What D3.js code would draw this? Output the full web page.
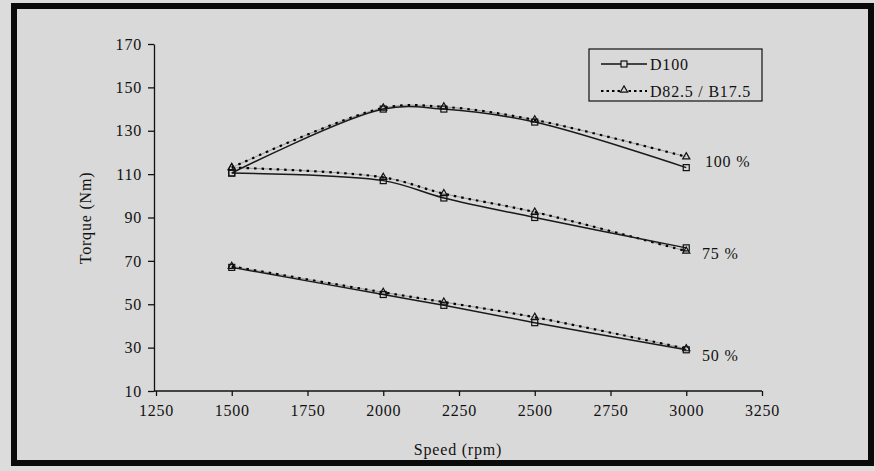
<!DOCTYPE html>
<html>
<head>
<meta charset="utf-8">
<script src="https://cdn.jsdelivr.net/npm/d3@7"></script>
<style>
  body { margin: 0; background: #d9d9d9; }
  svg text { font-family: "Liberation Serif", "DejaVu Serif", serif; fill: #111; letter-spacing: 0.8px; }
</style>
</head>
<body>
<div id="chart"></div>
<script>
// Torque vs speed, D100 against D82.5 / B17.5 at three loads

// ==========================================================
// Data
var speeds = [1500, 2000, 2200, 2500, 3000];
var loads = ["100 %", "75 %", "50 %"];

var d100_100 = [110.5, 140, 140, 134, 113];
var d100_75 = [110.5, 107, 99, 90, 76];
var d100_50 = [67, 54.5, 49.5, 41.5, 29];

var blend_100 = [113, 140.5, 141, 135, 118];
var blend_75 = [113, 108.5, 101, 92.5, 74.5];
var blend_50 = [67.5, 55.5, 51, 44, 29.5];

var xTicks = [1250, 1500, 1750, 2000, 2250, 2500, 2750, 3000, 3250];
var yTicks = [10, 30, 50, 70, 90, 110, 130, 150, 170];

var legendNames = ["D100", "D82.5 / B17.5"];

// ==========================================================
// Sizes
var svgWidth = 875;
var svgHeight = 471;
var fontSize = "16px";

var svg = d3.select("#chart")
  .append("svg")
  .attr("width", svgWidth)
  .attr("height", svgHeight);

// frame
svg.append("rect")
  .attr("x", 0).attr("y", 0)
  .attr("width", svgWidth).attr("height", svgHeight)
  .attr("fill", "#dcdcdc");

svg.append("rect")
  .attr("x", 14).attr("y", 6)
  .attr("width", 857).attr("height", 457)
  .attr("fill", "#d9d9d9")
  .attr("stroke", "#0a0a0a")
  .attr("stroke-width", 6);

// scales
var x = d3.scaleLinear().domain([1250, 3250]).range([156, 762]);
var y = d3.scaleLinear().domain([10, 170]).range([391, 44]);

// axes
var bottomAxis = d3.axisBottom(x).tickValues(xTicks).tickFormat(d3.format("d"))
  .tickSize(5).tickSizeOuter(0).tickPadding(9);
var leftAxis = d3.axisLeft(y).tickValues(yTicks).tickFormat(d3.format("d"))
  .tickSize(6).tickSizeOuter(0).tickPadding(6);

var xAxis = svg.append("g")
  .attr("transform", `translate(0, ${y(10)})`)
  .call(bottomAxis);

var yAxis = svg.append("g")
  .attr("transform", `translate(${x(1250) - 2}, 0)`)
  .call(leftAxis);

[xAxis, yAxis].forEach(function(ax) {
  ax.select(".domain").attr("stroke", "#111").attr("stroke-width", 1.3);
  ax.selectAll(".tick line").attr("stroke", "#111").attr("stroke-width", 1.3);
  ax.selectAll(".tick text")
    .style("font-size", fontSize)
    .style("font-family", '"Liberation Serif", serif')
    .attr("fill", "#111");
});
xAxis.select(".domain").attr("d", `M${x(1250) - 2},0H${x(3250)}`);

// axis titles
svg.append("text")
  .attr("x", 458)
  .attr("y", 455)
  .attr("text-anchor", "middle")
  .style("font-size", fontSize)
  .text("Speed (rpm)");

svg.append("text")
  .attr("transform", "translate(91, 218) rotate(-90)")
  .attr("text-anchor", "middle")
  .style("font-size", fontSize)
  .text("Torque (Nm)");

// ==========================================================
// Lines
var line = d3.line()
  .x((d, i) => x(speeds[i]))
  .y(d => y(d))
  .curve(d3.curveCatmullRom.alpha(0.5));

var d100Sets = [d100_100, d100_75, d100_50];
var blendSets = [blend_100, blend_75, blend_50];

function drawSolid(values) {
  svg.append("path")
    .attr("d", line(values))
    .attr("fill", "none")
    .attr("stroke", "#1a1a1a")
    .attr("stroke-width", 1.5);
}

function drawDotted(values) {
  svg.append("path")
    .attr("d", line(values))
    .attr("fill", "none")
    .attr("stroke", "#999")
    .attr("stroke-width", 1);
  svg.append("path")
    .attr("d", line(values))
    .attr("fill", "none")
    .attr("stroke", "#000")
    .attr("stroke-width", 2.2)
    .attr("stroke-dasharray", "2.5,5");
}

var triangle = d3.symbol().type(d3.symbolTriangle).size(22);

function drawSquares(values) {
  svg.append("g").selectAll("rect")
    .data(values)
    .enter()
    .append("rect")
    .attr("x", (d, i) => x(speeds[i]) - 3)
    .attr("y", d => y(d) - 3)
    .attr("width", 6)
    .attr("height", 6)
    .attr("fill", "none")
    .attr("stroke", "#111")
    .attr("stroke-width", 1.2);
}

function drawTriangles(values) {
  svg.append("g").selectAll("path")
    .data(values)
    .enter()
    .append("path")
    .attr("d", triangle)
    .attr("transform", (d, i) => `translate(${x(speeds[i])}, ${y(d)})`)
    .attr("fill", "none")
    .attr("stroke", "#111")
    .attr("stroke-width", 1.2);
}

blendSets.forEach(drawDotted);
d100Sets.forEach(drawSolid);
blendSets.forEach(drawTriangles);
d100Sets.forEach(drawSquares);

// load labels at the right end
var loadY = [d3.mean([d100_100[4], blend_100[4]]), d100_75[4] - 3, d100_50[4] - 3];
svg.append("g").selectAll("text")
  .data(loads)
  .enter()
  .append("text")
  .attr("x", (d, i) => i === 0 ? 705 : 702)
  .attr("y", (d, i) => y(loadY[i]) + 5)
  .style("font-size", fontSize)
  .text(d => d);

// ==========================================================
// Legend
var legend = svg.append("g");

legend.append("rect")
  .attr("x", 589).attr("y", 49)
  .attr("width", 173).attr("height", 52)
  .attr("fill", "#d9d9d9")
  .attr("stroke", "#111")
  .attr("stroke-width", 1.2);

legend.append("line")
  .attr("x1", 601).attr("x2", 647)
  .attr("y1", 64).attr("y2", 64)
  .attr("stroke", "#111").attr("stroke-width", 1.3);
legend.append("rect")
  .attr("x", 621).attr("y", 61)
  .attr("width", 6).attr("height", 6)
  .attr("fill", "#d9d9d9").attr("stroke", "#111").attr("stroke-width", 1.2);

legend.append("line")
  .attr("x1", 601).attr("x2", 647)
  .attr("y1", 91).attr("y2", 91)
  .attr("stroke", "#000").attr("stroke-width", 2.2)
  .attr("stroke-dasharray", "2.5,3");
legend.append("path")
  .attr("d", triangle)
  .attr("transform", "translate(624, 90)")
  .attr("fill", "#d9d9d9").attr("stroke", "#111").attr("stroke-width", 1.2);

legend.selectAll("text.leg")
  .data(legendNames)
  .enter()
  .append("text")
  .attr("class", "leg")
  .attr("x", 650)
  .attr("y", (d, i) => 70 + i * 27)
  .style("font-size", fontSize)
  .text(d => d);
</script>
</body>
</html>
